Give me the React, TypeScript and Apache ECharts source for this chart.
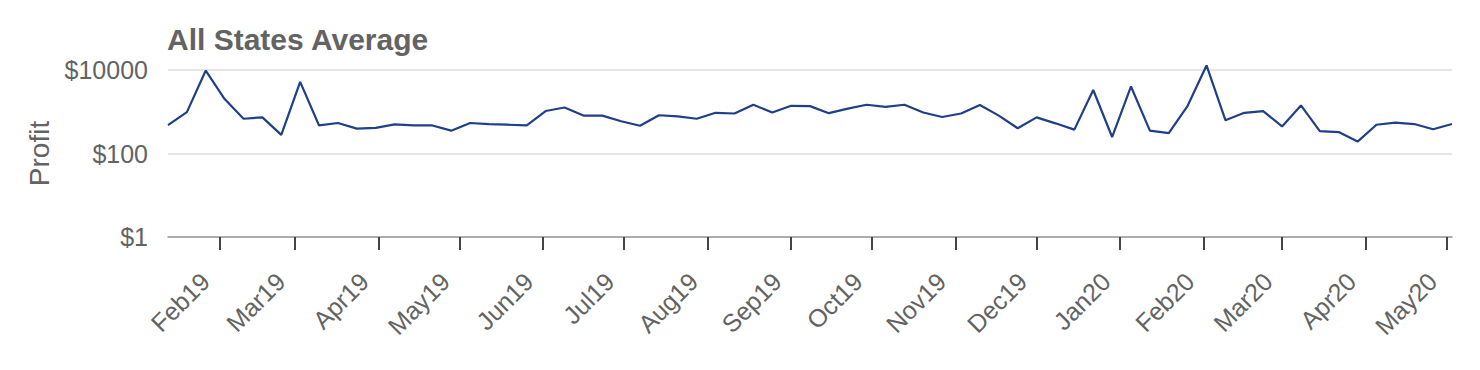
import React, { useEffect, useRef } from "react";
import * as echarts from "echarts";

const TITLE = "All States Average";
const Y_NAME = "Profit";
const START_DATE = "2019-01-13";
const END_DATE = "2020-05-03";
const MONTHS = ["Jan", "Feb", "Mar", "Apr", "May", "Jun", "Jul", "Aug", "Sep", "Oct", "Nov", "Dec"];

// weekly average profit, one point per week starting 2019-01-13
const PROFIT = [
  480, 980, 9700, 2010, 680, 734, 279, 5180, 470, 538, 395, 410, 498, 470, 470, 352, 538, 508,
  489, 470, 1040, 1262, 809, 809, 593, 461, 824, 778, 680, 944, 908, 1472, 962, 1390, 1363, 925,
  1191, 1472, 1312, 1472, 962, 748, 908, 1445, 809, 403, 734, 528, 373, 3320, 248, 4030, 352, 307,
  1390, 12860, 628, 944, 1040, 444, 1417, 345, 326, 193, 489, 548, 508, 380, 508,
];

const DAY = 86400000;
const fmt = (t: number) => new Date(t).toISOString().slice(0, 10);

function buildDays(): string[] {
  const out: string[] = [];
  const s = Date.parse(START_DATE + "T00:00:00Z");
  const e = Date.parse(END_DATE + "T00:00:00Z");
  for (let t = s; t <= e; t += DAY) out.push(fmt(t));
  return out;
}

const DAYS = buildDays();
const WEEKS = PROFIT.map((_, i) => fmt(Date.parse(START_DATE + "T00:00:00Z") + i * 7 * DAY));

const isMonthStart = (_i: number, v: string) => v.slice(8, 10) === "01";
const monthLabel = (v: string) => MONTHS[parseInt(v.slice(5, 7), 10) - 1] + v.slice(2, 4);

const FONT = "Liberation Sans, Arial, Helvetica, sans-serif";

export default function App() {
  const ref = useRef<HTMLDivElement>(null);
  useEffect(() => {
    if (!ref.current) return;
    const chart = echarts.init(ref.current, undefined, { renderer: "svg" });
    chart.setOption({
      animation: false,
      backgroundColor: "#ffffff",
      textStyle: { fontFamily: FONT },
      title: {
        text: TITLE,
        left: 167,
        top: 24,
        padding: 0,
        textStyle: { fontSize: 30, fontWeight: "bold", color: "#636363", fontFamily: FONT },
      },
      grid: { left: 168, right: 28, top: 70, height: 167 },
      xAxis: {
        type: "category",
        data: DAYS,
        boundaryGap: false,
        axisLine: { show: true, lineStyle: { color: "#9a9a9a", width: 1.5 } },
        axisTick: {
          show: true,
          interval: isMonthStart,
          length: 13,
          lineStyle: { color: "#444444", width: 2 },
        },
        axisLabel: {
          interval: isMonthStart,
          formatter: monthLabel,
          rotate: 45,
          fontSize: 25,
          color: "#636363",
          fontFamily: FONT,
          margin: 26,
          padding: [0, 20, 0, 0],
        },
        splitLine: { show: false },
      },
      yAxis: {
        type: "log",
        logBase: 100,
        min: 1,
        max: 10000,
        name: Y_NAME,
        nameLocation: "middle",
        nameRotate: 90,
        nameGap: 112,
        nameTextStyle: { fontSize: 28, color: "#636363", fontFamily: FONT },
        axisLine: { show: false },
        axisTick: { show: false },
        axisLabel: {
          formatter: (v: number) => "$" + Math.round(v),
          fontSize: 25,
          color: "#636363",
          fontFamily: FONT,
          margin: 20,
        },
        splitLine: { show: true, lineStyle: { color: "#dddddd", width: 1.5 } },
      },
      series: [
        {
          type: "line",
          data: WEEKS.map((d, i) => [d, PROFIT[i]]),
          showSymbol: false,
          symbol: "none",
          clip: false,
          lineStyle: { color: "#1f3f88", width: 2.2 },
        },
      ],
    });
    return () => chart.dispose();
  }, []);
  return (
    <div
      ref={ref}
      style={{ position: "fixed", left: 0, top: 0, width: 1480, height: 370, background: "#fff" }}
    />
  );
}
